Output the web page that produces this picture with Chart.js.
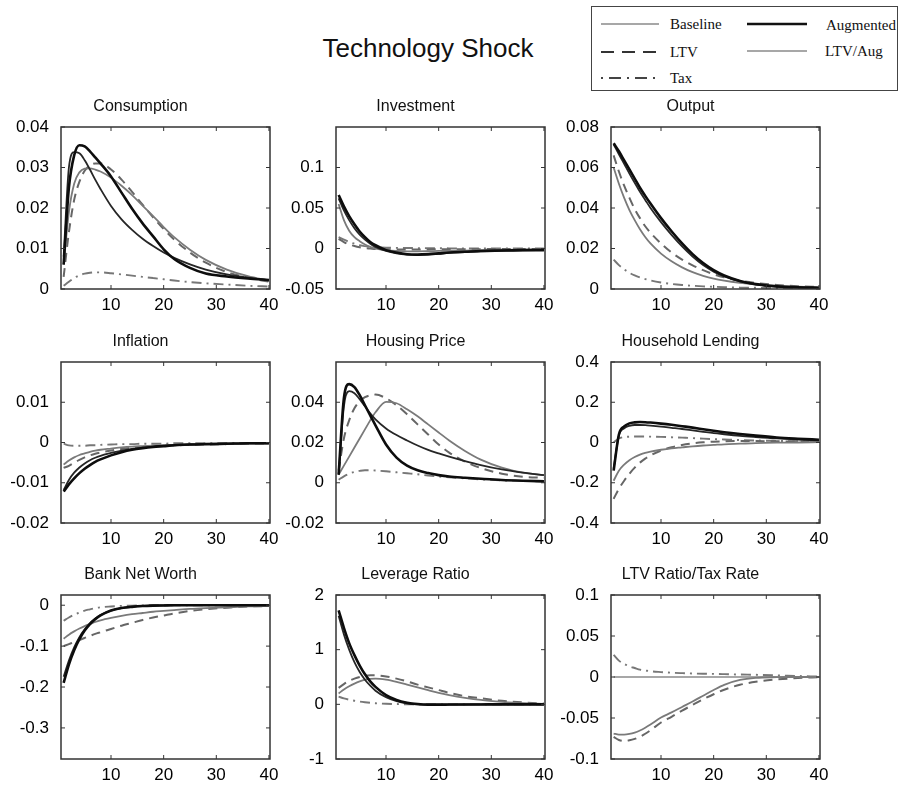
<!DOCTYPE html>
<html>
<head>
<meta charset="utf-8">
<script src="https://cdn.jsdelivr.net/npm/chart.js@4.4.1/dist/chart.umd.min.js"></script>
<style>
html,body{margin:0;padding:0;background:#fff;}
body{width:901px;height:785px;position:relative;overflow:hidden;font-family:"Liberation Sans",Arial,sans-serif;}
canvas{position:absolute;}
#mainTitle{position:absolute;left:0;width:856px;top:33px;line-height:30px;text-align:center;font-size:26px;color:#111;}
#legendBox{position:absolute;left:591px;top:6px;width:307px;height:85px;border:1.5px solid #444;box-sizing:border-box;}
.lg{position:absolute;font-family:"Liberation Serif","Times New Roman",serif;font-size:15px;line-height:20px;color:#111;white-space:nowrap;}
.ls{position:absolute;}
</style>
</head>
<body>
<div id="mainTitle">Technology Shock</div>
<div id="legendBox"></div>
<svg class="ls" style="left:600px;top:19px" width="60" height="10"><line x1="1" y1="5" x2="59" y2="5" stroke="#8a8a8a" stroke-width="1.5"/></svg>
<div class="lg" style="left:670px;top:14px">Baseline</div>
<svg class="ls" style="left:746px;top:19px" width="62" height="10"><line x1="1" y1="5" x2="61" y2="5" stroke="#111" stroke-width="2.5"/></svg>
<div class="lg" style="left:826px;top:15px">Augmented</div>
<svg class="ls" style="left:600px;top:47px" width="60" height="10"><line x1="1" y1="5" x2="59" y2="5" stroke="#333" stroke-width="2" stroke-dasharray="13 8"/></svg>
<div class="lg" style="left:670px;top:42px">LTV</div>
<svg class="ls" style="left:746px;top:46px" width="62" height="10"><line x1="1" y1="5" x2="61" y2="5" stroke="#8a8a8a" stroke-width="1.5"/></svg>
<div class="lg" style="left:825px;top:41px">LTV/Aug</div>
<svg class="ls" style="left:600px;top:73px" width="60" height="10"><line x1="1" y1="5" x2="59" y2="5" stroke="#444" stroke-width="1.8" stroke-dasharray="2 6 12 6"/></svg>
<div class="lg" style="left:670px;top:68px">Tax</div>

<script>
// ---------- data ----------
const periods = [1,2,3,4,5,6,7,8,10,12,14,16,18,20,22,25,28,32,36,40];
const xTicks = [10,20,30,40];

// Consumption
const consTicks = [0,0.01,0.02,0.03,0.04];
const consAug    = [0.006,0.025,0.033,0.0355,0.0352,0.034,0.0325,0.031,0.0278,0.0238,0.0198,0.0162,0.013,0.0098,0.0074,0.0052,0.0038,0.0031,0.0026,0.0022];
const consBase   = [0.008,0.030,0.0338,0.0335,0.0318,0.0295,0.027,0.0247,0.0205,0.0172,0.0146,0.0124,0.0106,0.009,0.0077,0.0061,0.0048,0.0036,0.0028,0.0022];
const consLtvAug = [0.006,0.019,0.026,0.0288,0.0297,0.0298,0.0295,0.029,0.0275,0.0255,0.0232,0.0206,0.018,0.0153,0.0128,0.0097,0.0072,0.0048,0.0032,0.0021];
const consLtv    = [0.003,0.014,0.022,0.0265,0.0292,0.0305,0.031,0.031,0.0295,0.027,0.024,0.0208,0.0177,0.0148,0.0122,0.009,0.0065,0.0042,0.0028,0.0018];
const consTax    = [0.0008,0.0018,0.0027,0.0034,0.0038,0.004,0.0041,0.0041,0.0039,0.0036,0.0033,0.003,0.0027,0.0024,0.0021,0.0017,0.0014,0.0011,0.0008,0.0006];

// Investment
const invTicks = [-0.05,0,0.05,0.1];
const invAug    = [0.066,0.052,0.04,0.03,0.021,0.014,0.008,0.004,-0.002,-0.005,-0.007,-0.0075,-0.007,-0.006,-0.005,-0.004,-0.003,-0.0025,-0.002,-0.002];
const invBase   = [0.062,0.047,0.035,0.025,0.017,0.011,0.006,0.002,-0.003,-0.006,-0.0075,-0.008,-0.0075,-0.0065,-0.0055,-0.0045,-0.0035,-0.0028,-0.0022,-0.002];
const invLtvAug = [0.055,0.035,0.022,0.014,0.009,0.005,0.002,0.0,-0.002,-0.003,-0.0035,-0.0035,-0.0033,-0.003,-0.0028,-0.0025,-0.002,-0.0017,-0.0015,-0.0013];
const invLtv    = [0.012,0.008,0.005,0.003,0.0015,0.0005,0,-0.0005,-0.001,-0.0012,-0.0012,-0.0012,-0.0011,-0.001,-0.001,-0.0009,-0.0008,-0.0007,-0.0006,-0.0005];
const invTax    = [0.014,0.011,0.008,0.006,0.004,0.003,0.002,0.0015,0.001,0.0008,0.0006,0.0005,0.0004,0.0003,0.0002,0.0001,0,0,0,0];

// Output
const outTicks = [0,0.02,0.04,0.06,0.08];
const outAug    = [0.072,0.068,0.0635,0.059,0.0545,0.05,0.046,0.0422,0.035,0.0285,0.0225,0.0172,0.0128,0.0093,0.0067,0.004,0.0024,0.0013,0.0008,0.0006];
const outBase   = [0.0715,0.0665,0.0618,0.057,0.0525,0.048,0.044,0.04,0.033,0.0267,0.021,0.016,0.0118,0.0086,0.0062,0.0038,0.0023,0.0012,0.0008,0.0006];
const outLtvAug = [0.06,0.052,0.045,0.039,0.034,0.0295,0.0257,0.0225,0.0175,0.0137,0.0107,0.0083,0.0065,0.0051,0.0041,0.003,0.0022,0.0015,0.0011,0.0008];
const outLtv    = [0.066,0.058,0.051,0.045,0.0395,0.035,0.031,0.0278,0.0225,0.018,0.0145,0.0117,0.0093,0.0073,0.0058,0.0041,0.003,0.002,0.0014,0.001];
const outTax    = [0.0145,0.0118,0.0097,0.008,0.0067,0.0057,0.0049,0.0042,0.0032,0.0025,0.002,0.0016,0.0013,0.0011,0.0009,0.0007,0.0006,0.0005,0.0004,0.0004];

// Inflation
const inflTicks = [-0.02,-0.01,0,0.01];
const inflAug    = [-0.0122,-0.0104,-0.0089,-0.0076,-0.0065,-0.0056,-0.0048,-0.0042,-0.0032,-0.0024,-0.0018,-0.0014,-0.0011,-0.0009,-0.0007,-0.0005,-0.0004,-0.0003,-0.0002,-0.0002];
const inflBase   = [-0.0118,-0.0093,-0.0075,-0.0062,-0.0052,-0.0044,-0.0038,-0.0033,-0.0026,-0.002,-0.0016,-0.0013,-0.001,-0.0008,-0.0007,-0.0005,-0.0004,-0.0003,-0.0002,-0.0002];
const inflLtvAug = [-0.0055,-0.0045,-0.0037,-0.0031,-0.0027,-0.0023,-0.002,-0.0018,-0.0015,-0.0012,-0.001,-0.0009,-0.0008,-0.0007,-0.0006,-0.0005,-0.0004,-0.0003,-0.0002,-0.0002];
const inflLtv    = [-0.0063,-0.0058,-0.005,-0.0043,-0.0037,-0.0032,-0.0028,-0.0025,-0.002,-0.0016,-0.0013,-0.0011,-0.0009,-0.0008,-0.0007,-0.0006,-0.0005,-0.0004,-0.0003,-0.0002];
const inflTax    = [-0.0003,-0.0007,-0.0008,-0.0008,-0.0008,-0.0007,-0.0007,-0.0006,-0.0005,-0.0004,-0.0004,-0.0003,-0.0003,-0.0003,-0.0002,-0.0002,-0.0002,-0.0001,-0.0001,-0.0001];

// Housing Price
const housTicks = [-0.02,0,0.02,0.04];
const housAug    = [0.004,0.042,0.049,0.0475,0.0435,0.0385,0.0335,0.0285,0.019,0.0125,0.0085,0.0062,0.0048,0.0038,0.0031,0.0025,0.002,0.0014,0.001,0.0007];
const housBase   = [0.004,0.038,0.0455,0.0445,0.0415,0.038,0.0345,0.0315,0.027,0.0237,0.021,0.0185,0.0163,0.0146,0.013,0.0108,0.0088,0.0066,0.005,0.0038];
const housLtvAug = [0.004,0.0085,0.013,0.0175,0.022,0.0265,0.031,0.035,0.0402,0.0395,0.0365,0.033,0.029,0.025,0.021,0.0158,0.0115,0.0075,0.005,0.0038];
const housLtv    = [0.006,0.022,0.031,0.037,0.0405,0.0425,0.0435,0.0438,0.042,0.0385,0.034,0.029,0.024,0.019,0.015,0.0105,0.0073,0.0045,0.003,0.0025];
const housTax    = [0.0015,0.0032,0.0045,0.0054,0.0059,0.0062,0.0062,0.0061,0.0057,0.0052,0.0047,0.0042,0.0036,0.0031,0.0027,0.0022,0.0017,0.0012,0.0009,0.0007];

// Household Lending
const lendTicks = [-0.4,-0.2,0,0.2,0.4];
const lendAug    = [-0.14,0.04,0.08,0.095,0.1,0.102,0.101,0.099,0.094,0.088,0.081,0.074,0.066,0.058,0.051,0.042,0.034,0.025,0.019,0.014];
const lendBase   = [-0.13,0.035,0.07,0.083,0.087,0.087,0.086,0.084,0.079,0.073,0.067,0.06,0.053,0.047,0.041,0.033,0.027,0.02,0.015,0.011];
const lendLtvAug = [-0.19,-0.14,-0.11,-0.088,-0.072,-0.06,-0.051,-0.045,-0.036,-0.029,-0.024,-0.019,-0.015,-0.012,-0.009,-0.006,-0.003,-0.001,0.0,0.002];
const lendLtv    = [-0.28,-0.23,-0.19,-0.155,-0.125,-0.1,-0.08,-0.064,-0.04,-0.024,-0.012,-0.004,0.001,0.004,0.006,0.007,0.007,0.006,0.005,0.004];
const lendTax    = [0.0,0.02,0.027,0.029,0.03,0.03,0.03,0.029,0.028,0.026,0.024,0.022,0.019,0.017,0.015,0.012,0.01,0.008,0.006,0.005];

// Bank Net Worth
const bankTicks = [-0.3,-0.2,-0.1,0];
const bankAug    = [-0.19,-0.145,-0.11,-0.083,-0.062,-0.046,-0.034,-0.025,-0.013,-0.007,-0.004,-0.002,-0.001,-0.0005,0,0,0,0,0,0];
const bankBase   = [-0.175,-0.135,-0.103,-0.078,-0.059,-0.044,-0.033,-0.024,-0.013,-0.007,-0.004,-0.002,-0.001,-0.0005,0,0,0,0,0,0];
const bankLtvAug = [-0.082,-0.072,-0.064,-0.057,-0.051,-0.046,-0.041,-0.037,-0.031,-0.026,-0.022,-0.019,-0.016,-0.014,-0.012,-0.009,-0.007,-0.005,-0.003,-0.002];
const bankLtv    = [-0.1,-0.095,-0.09,-0.085,-0.08,-0.075,-0.07,-0.066,-0.058,-0.05,-0.043,-0.036,-0.03,-0.025,-0.02,-0.014,-0.01,-0.006,-0.003,-0.002];
const bankTax    = [-0.038,-0.03,-0.023,-0.018,-0.013,-0.01,-0.007,-0.005,-0.003,-0.0015,-0.001,-0.0005,0,0,0,0,0,0,0,0];

// Leverage Ratio
const levTicks = [-1,0,1,2];
const levAug    = [1.72,1.4,1.12,0.9,0.71,0.55,0.42,0.32,0.17,0.08,0.03,0.005,-0.005,-0.005,-0.004,-0.003,-0.002,0,0,0];
const levBase   = [1.62,1.28,1.0,0.77,0.59,0.45,0.34,0.25,0.13,0.06,0.02,0.0,-0.005,-0.005,-0.004,-0.003,-0.002,0,0,0];
const levLtvAug = [0.2,0.27,0.33,0.38,0.42,0.45,0.465,0.47,0.45,0.41,0.36,0.31,0.26,0.21,0.17,0.12,0.08,0.045,0.02,0.01];
const levLtv    = [0.3,0.37,0.43,0.47,0.5,0.52,0.53,0.53,0.51,0.47,0.42,0.36,0.31,0.26,0.21,0.15,0.11,0.065,0.035,0.015];
const levTax    = [0.14,0.11,0.085,0.065,0.05,0.038,0.028,0.02,0.01,0.005,0.002,0,0,0,0,0,0,0,0,0];

// LTV Ratio / Tax Rate
const ltvTicks = [-0.1,-0.05,0,0.05,0.1];
const ltvBase   = [0,0,0,0,0,0,0,0,0,0,0,0,0,0,0,0,0,0,0,0];
const ltvLtvAug = [-0.069,-0.0702,-0.0703,-0.0695,-0.0678,-0.0652,-0.0618,-0.058,-0.0495,-0.0432,-0.0365,-0.0298,-0.0228,-0.0158,-0.0095,-0.0035,-0.001,-0.0002,0,0];
const ltvLtv    = [-0.073,-0.0768,-0.078,-0.0772,-0.0755,-0.0728,-0.0692,-0.065,-0.0555,-0.0485,-0.041,-0.034,-0.0272,-0.021,-0.0155,-0.0095,-0.0058,-0.003,-0.0013,-0.0003];
const ltvTax    = [0.027,0.02,0.016,0.013,0.011,0.009,0.008,0.007,0.006,0.0052,0.0047,0.0043,0.004,0.0038,0.0035,0.003,0.0027,0.002,0.0012,0.0005];

// ---------- styles ----------
const styles = {
  aug:    {label:'Augmented', color:'#0d0d0d', width:2.6, dash:[]},
  base:   {label:'Baseline',  color:'#262626', width:1.8, dash:[]},
  ltvAug: {label:'LTV/Aug',   color:'#7a7a7a', width:1.8, dash:[]},
  ltv:    {label:'LTV',       color:'#666666', width:2.0, dash:[9,6]},
  tax:    {label:'Tax',       color:'#777777', width:1.9, dash:[10,5,2,5]}
};

const COLS = [61, 336, 611];
const PW = 209;
const ROWS = [{top:127, h:162},{top:362, h:161},{top:595, h:164}];
const YW = 50, RM = 36, TOPH = 34, XH = 30;

const panels = [
  {title:'Consumption', c:0, r:0, min:0, max:0.04, ticks:consTicks, s:[['aug',consAug],['base',consBase],['ltvAug',consLtvAug],['ltv',consLtv],['tax',consTax]]},
  {title:'Investment', c:1, r:0, min:-0.05, max:0.15, ticks:invTicks, s:[['aug',invAug],['base',invBase],['ltvAug',invLtvAug],['ltv',invLtv],['tax',invTax]]},
  {title:'Output', c:2, r:0, min:0, max:0.08, ticks:outTicks, s:[['aug',outAug],['base',outBase],['ltvAug',outLtvAug],['ltv',outLtv],['tax',outTax]]},
  {title:'Inflation', c:0, r:1, min:-0.02, max:0.02, ticks:inflTicks, s:[['aug',inflAug],['base',inflBase],['ltvAug',inflLtvAug],['ltv',inflLtv],['tax',inflTax]]},
  {title:'Housing Price', c:1, r:1, min:-0.02, max:0.06, ticks:housTicks, s:[['aug',housAug],['base',housBase],['ltvAug',housLtvAug],['ltv',housLtv],['tax',housTax]]},
  {title:'Household Lending', c:2, r:1, min:-0.4, max:0.4, ticks:lendTicks, s:[['aug',lendAug],['base',lendBase],['ltvAug',lendLtvAug],['ltv',lendLtv],['tax',lendTax]]},
  {title:'Bank Net Worth', c:0, r:2, min:-0.376, max:0.025, ticks:bankTicks, s:[['aug',bankAug],['base',bankBase],['ltvAug',bankLtvAug],['ltv',bankLtv],['tax',bankTax]]},
  {title:'Leverage Ratio', c:1, r:2, min:-1, max:2, ticks:levTicks, s:[['aug',levAug],['base',levBase],['ltvAug',levLtvAug],['ltv',levLtv],['tax',levTax]]},
  {title:'LTV Ratio/Tax Rate', c:2, r:2, min:-0.1, max:0.1, ticks:ltvTicks, s:[['ltvAug',ltvLtvAug],['ltv',ltvLtv],['tax',ltvTax],['base',ltvBase,'#8a8a8a',1.5]]}
];

const boxPlugin = {
  id: 'matlabBox',
  afterDatasetsDraw(chart) {
    const {ctx, chartArea: a, scales: {x, y}} = chart;
    ctx.save();
    ctx.strokeStyle = '#333';
    ctx.lineWidth = 1.5;
    ctx.strokeRect(a.left, a.top, a.right - a.left, a.bottom - a.top);
    ctx.lineWidth = 1;
    const L = 4;
    ctx.beginPath();
    x.ticks.forEach(t => {
      const px = x.getPixelForValue(t.value);
      ctx.moveTo(px, a.bottom); ctx.lineTo(px, a.bottom - L);
      ctx.moveTo(px, a.top); ctx.lineTo(px, a.top + L);
    });
    y.ticks.forEach(t => {
      const py = y.getPixelForValue(t.value);
      ctx.moveTo(a.left, py); ctx.lineTo(a.left + L, py);
      ctx.moveTo(a.right, py); ctx.lineTo(a.right - L, py);
    });
    ctx.stroke();
    ctx.restore();
  }
};

const tickFont = {family:'"Liberation Sans", Arial, sans-serif', size:17};

panels.forEach(p => {
  const row = ROWS[p.r];
  const cv = document.createElement('canvas');
  const W = YW + PW + RM, H = TOPH + row.h + XH;
  cv.width = W; cv.height = H;
  cv.style.left = (COLS[p.c] - YW) + 'px';
  cv.style.top = (row.top - TOPH) + 'px';
  cv.style.width = W + 'px'; cv.style.height = H + 'px';
  document.body.appendChild(cv);

  const datasets = p.s.map(([key, vals, colOverride, wOverride]) => {
    const st = styles[key];
    return {
      label: st.label,
      data: periods.map((t, i) => ({x: t, y: vals[i]})),
      borderColor: colOverride || st.color,
      borderWidth: wOverride || st.width,
      borderDash: st.dash,
      pointRadius: 0,
      fill: false,
      cubicInterpolationMode: 'monotone'
    };
  });

  new Chart(cv, {
    type: 'line',
    data: {datasets},
    options: {
      responsive: false,
      animation: false,
      events: [],
      layout: {padding: {left: 0, right: RM, top: 0, bottom: 0}},
      plugins: {
        legend: {display: false},
        tooltip: {enabled: false},
        title: {
          display: true, text: p.title, fullSize: true,
          color: '#111',
          font: {family: '"Liberation Sans", Arial, sans-serif', size: 16, weight: 'normal', lineHeight: 1.25},
          padding: {top: 4, bottom: 10}
        }
      },
      scales: {
        x: {
          type: 'linear', min: 0.5, max: 40.2,
          afterBuildTicks: s => { s.ticks = xTicks.map(v => ({value: v})); },
          afterFit: s => { s.height = XH; },
          grid: {display: false, drawTicks: false},
          border: {display: false},
          ticks: {autoSkip: false, maxRotation: 0, padding: 6, color: '#000', font: tickFont, callback: v => String(v)}
        },
        y: {
          type: 'linear', min: p.min, max: p.max,
          afterBuildTicks: s => { s.ticks = p.ticks.map(v => ({value: v})); },
          afterFit: s => { s.width = YW; },
          grid: {display: false, drawTicks: false},
          border: {display: false},
          ticks: {autoSkip: false, padding: 12, color: '#000', font: tickFont, callback: v => String(v)}
        }
      }
    },
    plugins: [boxPlugin]
  });
});
</script>
</body>
</html>
